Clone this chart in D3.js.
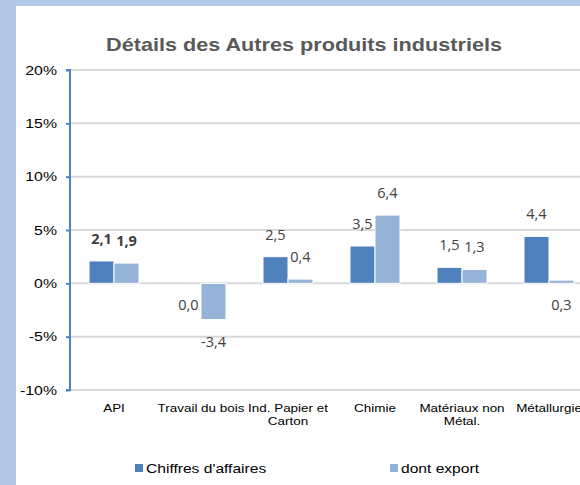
<!DOCTYPE html>
<html>
<head>
<meta charset="utf-8">
<script src="https://cdn.jsdelivr.net/npm/d3@7"></script>
<style>
  html, body { margin: 0; padding: 0; background: #B4C7E7; }
  #chart { width: 580px; height: 485px; }
  text { font-family: "Liberation Sans", Arial, sans-serif; }
</style>
</head>
<body>
<div id="chart"></div>
<script>
var categories = ["API", "Travail du bois", "Ind. Papier et Carton", "Chimie", "Matériaux non Métal.", "Métallurgie"];
var seriesNames = ["Chiffres d'affaires", "dont export"];
var chiffres = [2.1, 0.0, 2.5, 3.5, 1.5, 4.4];
var exportVals = [1.9, -3.4, 0.4, 6.4, 1.3, 0.3];
var yTicks = [-10, -5, 0, 5, 10, 15, 20];

// labels Excel pushed under the axis
var labelsBelow = {"Travail du bois|0": true, "Métallurgie|1": true};

var W = 580, H = 485;
// the source text is a bit wider than plain Arial
var stretch = 1.17;

var svg = d3.select("#chart").append("svg")
    .attr("width", W)
    .attr("height", H);

// white chart area
svg.append("rect")
    .attr("x", 16).attr("y", 6)
    .attr("width", W - 16).attr("height", H - 6)
    .attr("fill", "#fff");

svg.append("g")
    .attr("transform", "translate(304,51) scale(" + stretch + ",1)")
    .append("text")
    .attr("text-anchor", "middle")
    .attr("font-size", "18.5px")
    .attr("font-weight", "bold")
    .attr("fill", "#595959")
    .text("Détails des Autres produits industriels");

var x0 = d3.scaleBand().domain(categories).range([70.5, 592.5]).paddingInner(0).paddingOuter(0);
var x1 = d3.scaleBand().domain([0, 1]).range([x0.bandwidth() / 2 - 25, x0.bandwidth() / 2 + 25]);
var y = d3.scaleLinear().domain([-10, 20]).range([390, 70]);
var color = d3.scaleOrdinal().domain([0, 1]).range(["#4F81BD", "#95B3D7"]);

// grid lines
svg.append("g")
    .selectAll("line")
    .data(yTicks)
    .enter().append("line")
    .attr("x1", 70).attr("x2", W)
    .attr("y1", function (d) { return y(d); })
    .attr("y2", function (d) { return y(d); })
    .attr("stroke", "#D9D9D9")
    .attr("stroke-width", 2);

// y axis
var yAxis = svg.append("g")
    .attr("transform", "translate(70,0)")
    .call(d3.axisLeft(y).tickValues(yTicks).tickSize(4).tickPadding(9)
        .tickFormat(function (d) { return d + "%"; }));
yAxis.select(".domain").attr("stroke", "#4F81BD").attr("stroke-width", 2)
    .attr("d", "M-4," + y(20) + "H0V" + y(-10) + "H-4");
yAxis.selectAll(".tick line").attr("stroke", "#4F81BD").attr("stroke-width", 2);
yAxis.selectAll(".tick text")
    .attr("x", null)
    .attr("transform", "translate(-13,0) scale(" + (stretch + 0.05) + ",1)")
    .attr("font-size", "13px")
    .attr("font-family", "Liberation Sans, Arial, sans-serif")
    .attr("fill", "#000");

var rows = categories.map(function (c, i) {
    return {cat: c, values: [chiffres[i], exportVals[i]]};
});

var groups = svg.append("g")
    .selectAll("g")
    .data(rows)
    .enter().append("g")
    .attr("transform", function (d) { return "translate(" + x0(d.cat) + ",0)"; });

groups.selectAll("rect")
    .data(function (d) { return d.values.map(function (v, k) { return {cat: d.cat, k: k, v: v}; }); })
    .enter().append("rect")
    .attr("x", function (d) { return x1(d.k); })
    .attr("width", x1.bandwidth())
    .attr("y", function (d) { return y(Math.max(0, d.v)); })
    .attr("height", function (d) { return Math.abs(y(d.v) - y(0)); })
    .attr("fill", function (d) { return color(d.k); })
    .attr("stroke", "#fff")
    .attr("stroke-width", 1);

groups.selectAll("text.val")
    .data(function (d) { return d.values.map(function (v, k) { return {cat: d.cat, k: k, v: v}; }); })
    .enter().append("text")
    .attr("class", "val")
    .attr("x", function (d) { return x1(d.k) + x1.bandwidth() / 2; })
    .attr("y", function (d) {
        if (labelsBelow[d.cat + "|" + d.k]) return y(0) + 22 + 5;
        return d.v >= 0 ? y(d.v) - 22 + 5 : y(d.v) + 22 + 5;
    })
    .attr("text-anchor", "middle")
    .attr("font-size", "14.5px")
    .style("font-family", "'Open Sans', 'Noto Sans', sans-serif")
    .attr("font-weight", function (d) { return d.cat === "API" ? "bold" : "normal"; })
    .attr("fill", "#404040")
    .text(function (d) { return d3.format(".1f")(d.v).replace(".", ",").replace("−", "-"); });

// category labels, wrapped like Excel
var catLines = {
    "Ind. Papier et Carton": ["Ind. Papier et", "Carton"],
    "Matériaux non Métal.": ["Matériaux non", "Métal."]
};
var catLabels = svg.append("g")
    .selectAll("g")
    .data(categories)
    .enter().append("g")
    .attr("transform", function (d) {
        return "translate(" + (x0(d) + x0.bandwidth() / 2) + ",412) scale(" + stretch + ",1)";
    })
    .append("text")
    .attr("text-anchor", "middle")
    .attr("font-size", "11.5px")
    .attr("fill", "#000");
catLabels.each(function (d) {
    var lines = catLines[d] || [d];
    var t = d3.select(this);
    lines.forEach(function (l, i) {
        t.append("tspan")
            .attr("x", 0)
            .attr("dy", i === 0 ? 0 : 13)
            .text(l);
    });
});

// legend
var legendX = [135, 390];
var legend = svg.append("g")
    .selectAll("g")
    .data(seriesNames)
    .enter().append("g")
    .attr("transform", function (d, i) { return "translate(" + legendX[i] + ",464)"; });
legend.append("rect")
    .attr("width", 8).attr("height", 8)
    .attr("fill", function (d, i) { return color(i); });
legend.append("g")
    .attr("transform", "translate(11,9) scale(" + (stretch + 0.03) + ",1)")
    .append("text")
    .attr("font-size", "13px")
    .attr("fill", "#000")
    .text(function (d) { return d; });
</script>
</body>
</html>
